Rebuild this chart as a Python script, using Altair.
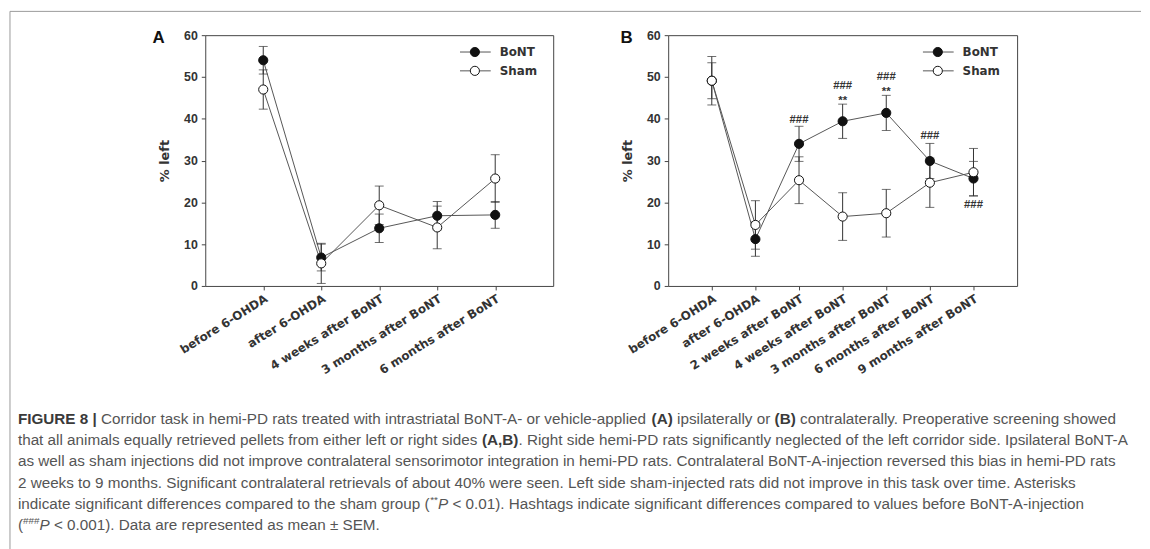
import altair as alt
import pandas as pd

# ---------------- data ----------------
cats_a = ["before 6-OHDA", "after 6-OHDA", "4 weeks after BoNT",
          "3 months after BoNT", "6 months after BoNT"]
bont_a = [54.0, 6.8, 13.8, 16.8, 17.0]
bont_a_sem = [3.3, 3.2, 3.4, 3.4, 3.2]
sham_a = [47.0, 5.4, 19.3, 14.0, 25.7]
sham_a_sem = [4.7, 4.8, 4.6, 5.1, 5.7]

cats_b = ["before 6-OHDA", "after 6-OHDA", "2 weeks after BoNT",
          "4 weeks after BoNT", "3 months after BoNT", "6 months after BoNT",
          "9 months after BoNT"]
bont_b = [49.1, 11.2, 34.0, 39.4, 41.4, 29.9, 25.7]
bont_b_sem = [4.3, 4.1, 4.2, 4.1, 4.2, 4.2, 4.1]
sham_b = [49.1, 14.6, 25.3, 16.6, 17.4, 24.7, 27.2]
sham_b_sem = [5.8, 5.8, 5.6, 5.7, 5.7, 5.9, 5.7]

annot_cats = ["2 weeks after BoNT", "4 weeks after BoNT", "4 weeks after BoNT",
              "3 months after BoNT", "3 months after BoNT",
              "6 months after BoNT", "9 months after BoNT"]
annot_y = [39.8, 47.9, 44.2, 50.0, 46.3, 35.9, 19.3]
annot_text = ["###", "###", "**", "###", "**", "###", "###"]

series_names = ["BoNT", "Sham"]
y_ticks = [0, 10, 20, 30, 40, 50, 60]

# caption: each line is a list of (style, text); b=bold, r=regular,
# i=italic, s=superscript
caption = [
    [("b", "FIGURE 8 | "),
     ("r", "Corridor task in hemi-PD rats treated with intrastriatal BoNT-A- or vehicle-applied "),
     ("b", "(A)"), ("r", " ipsilaterally or "), ("b", "(B)"),
     ("r", " contralaterally. Preoperative screening showed")],
    [("r", "that all animals equally retrieved pellets from either left or right sides "),
     ("b", "(A,B)"),
     ("r", ". Right side hemi-PD rats significantly neglected of the left corridor side. Ipsilateral BoNT-A")],
    [("r", "as well as sham injections did not improve contralateral sensorimotor integration in "
           "hemi-PD rats. Contralateral BoNT-A-injection reversed this bias in hemi-PD rats")],
    [("r", "2 weeks to 9 months. Significant contralateral retrievals of about 40% were seen. "
           "Left side sham-injected rats did not improve in this task over time. Asterisks")],
    [("r", "indicate significant differences compared to the sham group ("),
     ("s", "**"), ("i", "P"),
     ("r", " < 0.01). Hashtags indicate significant differences compared to values before BoNT-A-injection")],
    [("r", "("), ("s", "###"), ("i", "P"),
     ("r", " < 0.001). Data are represented as mean \u00b1 SEM.")],
]

FONT = "Liberation Sans"
WFONT = "DejaVu Sans"
LINE_COLOR = "#555555"
BAR_COLOR = "#333333"
AX_COLOR = "#444444"
CAP_SIZE = 15.4
SUP_SIZE = 10.0

# Arial / Liberation Sans advance widths (1/1000 em) for caption layout
_W = {}
for _ch, _w in zip(" !\"#$%&'()*+,-./:;<=>?|",
                   [278, 278, 355, 556, 556, 889, 667, 191, 333, 333, 389, 584,
                    278, 333, 278, 278, 278, 278, 584, 584, 584, 556, 260]):
    _W[_ch] = _w
for _ch in "0123456789":
    _W[_ch] = 556
for _ch, _w in zip("ABCDEFGHIJKLMNOPQRSTUVWXYZ",
                   [667, 667, 722, 722, 667, 611, 778, 722, 278, 500, 667, 556, 833,
                    722, 778, 667, 778, 722, 667, 611, 722, 667, 944, 667, 667, 611]):
    _W[_ch] = _w
for _ch, _w in zip("abcdefghijklmnopqrstuvwxyz",
                   [556, 556, 500, 556, 556, 278, 556, 556, 222, 222, 500, 222, 833,
                    556, 556, 556, 556, 333, 500, 278, 556, 500, 722, 500, 500, 500]):
    _W[_ch] = _w
_W["\u00b1"] = 584
_WB = dict(_W)
_WB.update({"A": 722, "B": 722, "F": 611, "G": 778, "U": 722, "R": 722,
            "E": 667, "I": 278, "|": 280, ",": 278, "(": 333, ")": 333})


def text_width(s, style):
    table = _WB if style == "b" else _W
    size = SUP_SIZE if style == "s" else CAP_SIZE
    return sum(table.get(c, 556) for c in s) * size / 1000.0


def long_df(cats, bont, bont_sem, sham, sham_sem):
    rows = []
    for s, vals, sems in [("BoNT", bont, bont_sem), ("Sham", sham, sham_sem)]:
        for i, (c, v, e) in enumerate(zip(cats, vals, sems)):
            rows.append({"cat": c, "idx": i, "series": s, "mean": v,
                         "lo": v - e, "hi": v + e})
    return pd.DataFrame(rows)


def one(**kw):
    return pd.DataFrame([kw])


def caption_layers(x0, y0, lh):
    out = []
    for li, segs in enumerate(caption):
        x = x0
        y = y0 + lh * li
        for style, txt in segs:
            props = dict(font=FONT, fontSize=CAP_SIZE, color="#555555",
                         align="left", baseline="top")
            yy = y
            if style == "b":
                props.update(fontWeight="bold", color="#3a3a3a")
            elif style == "i":
                props.update(fontStyle="italic")
            elif style == "s":
                props.update(fontSize=SUP_SIZE)
                yy = y - 2
            # leading blanks are collapsed by SVG: advance past them instead
            stripped = txt.lstrip(" ")
            x_start = x + text_width(txt[:len(txt) - len(stripped)], style)
            out.append(alt.Chart(one(t=stripped)).mark_text(**props).encode(
                x=alt.value(round(x_start, 2)), y=alt.value(yy), text="t:N"))
            x += text_width(txt, style)
    return out


def panel(cats, bont, bont_sem, sham, sham_sem, width, letter, letter_x,
          annots=None, with_caption=False):
    df = long_df(cats, bont, bont_sem, sham, sham_sem)
    xenc = alt.X("cat:N", sort=cats, title=None,
                 scale=alt.Scale(type="point", padding=1),
                 axis=alt.Axis(labelAngle=-32, labelAlign="right",
                               labelBaseline="top", labelFont=WFONT,
                               labelFontWeight="bold", labelFontSize=12,
                               labelColor="#333333", tickSize=4,
                               tickColor=AX_COLOR, domain=False,
                               labelPadding=3))

    def yenc(field):
        return alt.Y(f"{field}:Q", title="% left",
                     scale=alt.Scale(domain=[0, 60], nice=False, zero=True),
                     axis=alt.Axis(values=y_ticks, grid=False, domain=False,
                                   tickSize=4, tickColor=AX_COLOR,
                                   labelFont=FONT, labelFontWeight="bold",
                                   labelFontSize=12.5, labelColor="#333333",
                                   labelPadding=4, titleFont=WFONT,
                                   titleFontWeight="bold", titleFontSize=13,
                                   titleColor="#333333", titlePadding=12))

    base = alt.Chart(df).encode(x=xenc)
    lines = base.mark_line(color=LINE_COLOR, strokeWidth=1).encode(
        y=yenc("mean"), detail="series:N", order="idx:Q")
    bars = base.mark_rule(color=BAR_COLOR, strokeWidth=1).encode(
        y=yenc("lo"), y2="hi:Q")
    cap_lo = base.mark_tick(color=BAR_COLOR, thickness=1, size=9,
                            orient="horizontal").encode(y=yenc("lo"))
    cap_hi = base.mark_tick(color=BAR_COLOR, thickness=1, size=9,
                            orient="horizontal").encode(y=yenc("hi"))
    pts_b = base.transform_filter(alt.datum.series == "BoNT").mark_circle(
        size=85, opacity=1, fill="#111111", stroke="#111111",
        strokeWidth=1).encode(y=yenc("mean"))
    pts_s = base.transform_filter(alt.datum.series == "Sham").mark_circle(
        size=85, opacity=1, fill="white", stroke="#111111",
        strokeWidth=1).encode(y=yenc("mean"))

    layers = [lines, bars, cap_lo, cap_hi, pts_b, pts_s]

    if annots is not None:
        adf = pd.DataFrame({"cat": annots[0], "y": annots[1], "t": annots[2]})
        layers.append(alt.Chart(adf).mark_text(
            font=FONT, fontSize=11.5, fontWeight="bold", color="#333333",
            baseline="middle").encode(x=alt.X("cat:N", sort=cats),
                                      y=alt.Y("y:Q"), text="t:N"))

    # legend (drawn inside the plot, top right)
    for i, name in enumerate(series_names):
        ly = 17 + 19 * i
        fill = "#111111" if name == "BoNT" else "white"
        layers.append(alt.Chart(one(n=name)).mark_rule(
            color=LINE_COLOR, strokeWidth=1).encode(
            x=alt.value(257), x2=alt.value(288), y=alt.value(ly)))
        layers.append(alt.Chart(one(n=name)).mark_circle(
            size=85, opacity=1, fill=fill, stroke="#111111",
            strokeWidth=1).encode(x=alt.value(272), y=alt.value(ly)))
        layers.append(alt.Chart(one(n=name)).mark_text(
            font=WFONT, fontSize=12, fontWeight="bold", color="#333333",
            align="left", baseline="middle").encode(
            x=alt.value(297), y=alt.value(ly), text="n:N"))

    # panel letter
    layers.append(alt.Chart(one(n=letter)).mark_text(
        font=FONT, fontSize=17, fontWeight="bold", color="#111111",
        align="center", baseline="middle").encode(
        x=alt.value(letter_x), y=alt.value(3), text="n:N"))

    if with_caption:
        # page frame
        layers.append(alt.Chart(one(n=0)).mark_rule(
            color="#9a9a9a", strokeWidth=1).encode(
            x=alt.value(-197), y=alt.value(-24), y2=alt.value(520)))
        layers.append(alt.Chart(one(n=0)).mark_rule(
            color="#9a9a9a", strokeWidth=1).encode(
            x=alt.value(-197), x2=alt.value(944), y=alt.value(-24)))
        layers.extend(caption_layers(-189, 380, 21.5))

    return alt.layer(*layers).properties(width=width, height=253)


chart_a = panel(cats_a, bont_a, bont_a_sem, sham_a, sham_a_sem, 351, "A", -47,
                with_caption=True)
chart_b = panel(cats_b, bont_b, bont_b_sem, sham_b, sham_b_sem, 352, "B", -42,
                annots=(annot_cats, annot_y, annot_text))

chart = alt.hconcat(chart_a, chart_b, spacing=116, bounds="flush").properties(
    padding={"left": 1, "top": 0, "right": 0, "bottom": 0},
    background="white"
).configure_view(stroke=AX_COLOR, strokeWidth=1)

chart.save("out.html", embed_options={"renderer": "svg", "actions": False})
